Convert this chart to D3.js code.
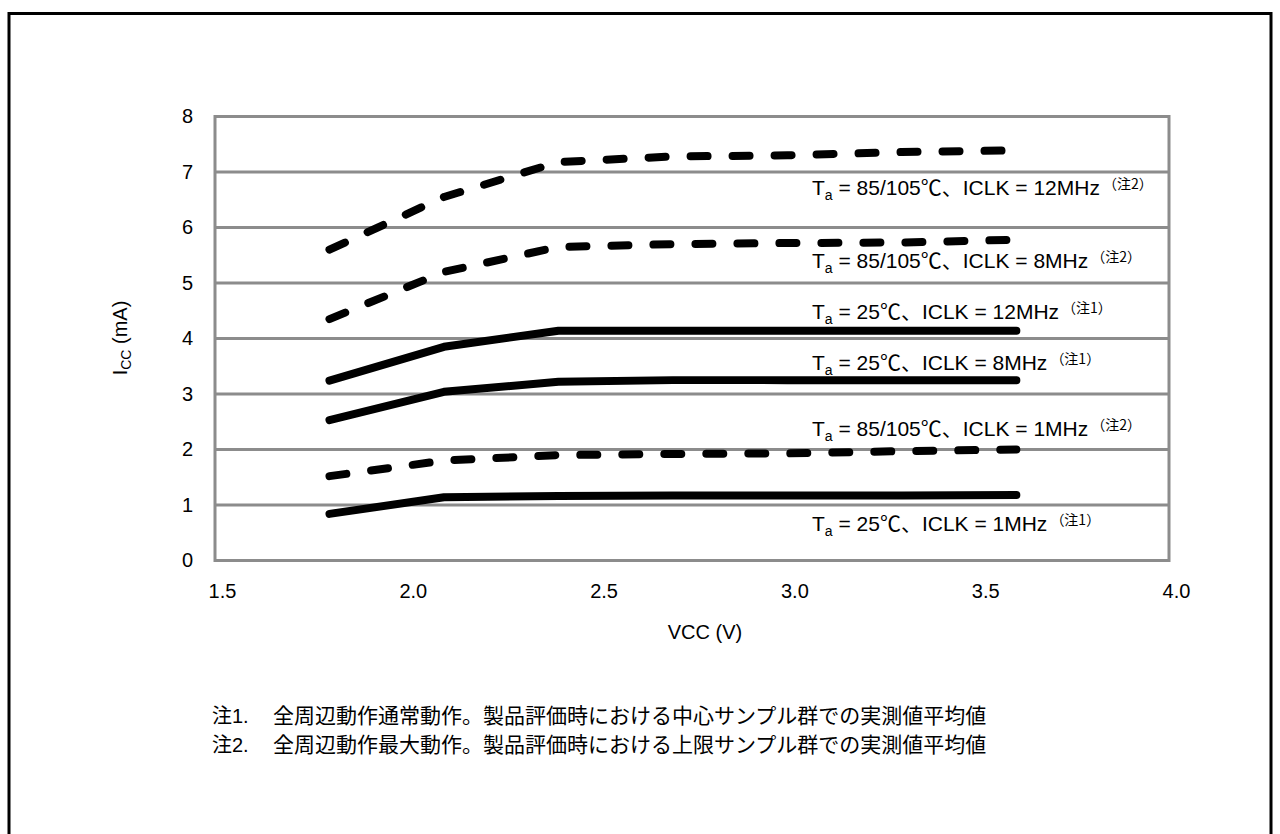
<!DOCTYPE html>
<html>
<head>
<meta charset="utf-8">
<script src="https://cdn.jsdelivr.net/npm/d3@7"></script>
<style>
  html, body { margin: 0; padding: 0; background: #fff; }
  svg { display: block; }
  text { font-family: "Liberation Sans", Arial, "Noto Sans CJK JP", sans-serif; fill: #000; }
</style>
</head>
<body>
<svg id="chart" width="1280" height="834"></svg>
<script>
// ---- data ----
const vcc = [1.8, 2.1, 2.4, 2.7, 3.0, 3.3, 3.6];
const hot12 = [5.60, 6.55, 7.18, 7.28, 7.30, 7.36, 7.39];
const hot8  = [4.35, 5.20, 5.65, 5.70, 5.72, 5.73, 5.78];
const room12 = [3.24, 3.85, 4.14, 4.14, 4.14, 4.14, 4.14];
const room8  = [2.53, 3.04, 3.22, 3.25, 3.25, 3.25, 3.25];
const hot1  = [1.52, 1.80, 1.90, 1.92, 1.93, 1.97, 2.00];
const room1 = [0.84, 1.14, 1.16, 1.17, 1.17, 1.17, 1.18];

const seriesValues = [hot12, hot8, room12, room8, hot1, room1];
const seriesDashed = [true, true, false, false, true, false];
const seriesTemp = ["85/105℃", "85/105℃", "25℃", "25℃", "85/105℃", "25℃"];
const seriesClock = ["12MHz", "8MHz", "12MHz", "8MHz", "1MHz", "1MHz"];
const seriesNote = ["（注2）", "（注2）", "（注1）", "（注1）", "（注2）", "（注1）"];
const labelAt = [6.59, 5.27, 4.35, 3.43, 2.24, 0.53]; // label baselines in mA

const xTicks = [1.5, 2.0, 2.5, 3.0, 3.5, 4.0];
const yTicks = [0, 1, 2, 3, 4, 5, 6, 7, 8];
const xTitle = "VCC (V)";
const notes = [
  ["注1.", "全周辺動作通常動作。製品評価時における中心サンプル群での実測値平均値"],
  ["注2.", "全周辺動作最大動作。製品評価時における上限サンプル群での実測値平均値"]
];

// ---- drawing ----
const svg = d3.select("#chart");
const grey = "#8c8c8c";

// outer frame
svg.append("rect")
  .attr("x", 9).attr("y", 13.5)
  .attr("width", 1262).attr("height", 900)
  .attr("fill", "none").attr("stroke", "#000").attr("stroke-width", 3);

const x = d3.scaleLinear().domain([1.5, 4.0]).range([215, 1169]);
const y = d3.scaleLinear().domain([0, 8]).range([560.5, 116.5]);

// grid lines
svg.append("g").selectAll("line").data(yTicks).join("line")
  .attr("x1", x(1.5)).attr("x2", x(4.0))
  .attr("y1", d => y(d)).attr("y2", d => y(d))
  .attr("stroke", grey).attr("stroke-width", 3);
// vertical borders
svg.append("g").selectAll("line").data([1.5, 4.0]).join("line")
  .attr("x1", d => x(d)).attr("x2", d => x(d))
  .attr("y1", y(8) - 1.5).attr("y2", y(0) + 1.5)
  .attr("stroke", grey).attr("stroke-width", 3);

// axes
const xAxis = svg.append("g")
  .attr("transform", `translate(0,${y(0)})`)
  .call(d3.axisBottom(x).tickValues(xTicks).tickFormat(d3.format(".1f")).tickSize(0).tickPadding(23));
xAxis.select(".domain").remove();
xAxis.selectAll("text").attr("dx", 7).style("font-size", "20px")
  .style("font-family", "'Liberation Sans', Arial, sans-serif");

const yAxis = svg.append("g")
  .attr("transform", `translate(${x(1.5)},0)`)
  .call(d3.axisLeft(y).tickValues(yTicks).tickFormat(d3.format("d")).tickSize(0).tickPadding(22));
yAxis.select(".domain").remove();
yAxis.selectAll("text").style("font-size", "20px")
  .style("font-family", "'Liberation Sans', Arial, sans-serif");

// axis titles
svg.append("text")
  .attr("x", 705).attr("y", 639)
  .attr("text-anchor", "middle")
  .style("font-size", "20px")
  .text(xTitle);

const yt = svg.append("text")
  .attr("transform", "translate(127,338) rotate(-90)")
  .attr("text-anchor", "middle")
  .style("font-size", "20px");
yt.append("tspan").text("I");
yt.append("tspan").attr("dy", 4).style("font-size", "14px").text("CC");
yt.append("tspan").attr("dy", -4).text(" (mA)");

// lines
const line = d3.line().x((d, i) => x(vcc[i])).y(d => y(d));
svg.append("g").selectAll("path").data(seriesValues).join("path")
  .attr("d", d => line(d))
  .attr("fill", "none")
  .attr("stroke", "#000")
  .attr("stroke-width", 8)
  .attr("stroke-linecap", "round")
  .attr("stroke-linejoin", "round")
  .attr("stroke-dasharray", (d, i) => seriesDashed[i] ? "17 25" : null);

// series labels
seriesValues.forEach((s, i) => {
  const t = svg.append("text")
    .attr("x", 812).attr("y", y(labelAt[i]))
    .style("font-size", "21px");
  t.append("tspan").text("T");
  t.append("tspan").attr("dy", 5).style("font-size", "14px").text("a");
  t.append("tspan").attr("dy", -5).text(` = ${seriesTemp[i]}、ICLK = ${seriesClock[i]}`);
  t.append("tspan").attr("dy", -6).attr("dx", 3).style("font-size", "14px")
    .style("font-family", "'Noto Sans CJK JP', sans-serif").text(seriesNote[i]);
});

// notes
notes.forEach((n, i) => {
  svg.append("text").attr("x", 212).attr("y", 723 + i * 29)
    .style("font-size", "20px").text(n[0]);
  svg.append("text").attr("x", 273).attr("y", 723 + i * 29)
    .style("font-size", "21px")
    .style("font-family", "'Noto Sans CJK JP', sans-serif")
    .text(n[1]);
});
</script>
</body>
</html>
